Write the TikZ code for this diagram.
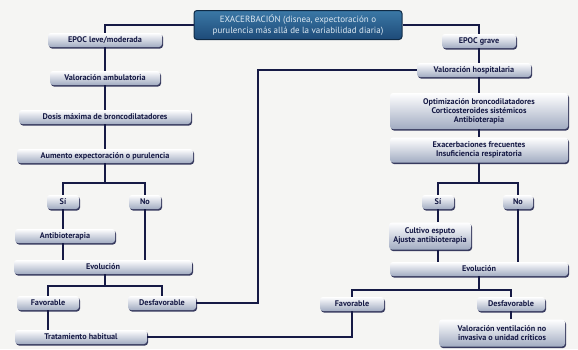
\documentclass[tikz,border=0pt]{standalone}
\usepackage{fontspec}
\setmainfont{PT Sans}
\usetikzlibrary{shadows}
\definecolor{navy}{HTML}{161A45}
\definecolor{boxbot}{HTML}{A2ACC2}
\definecolor{topA}{HTML}{3A78A6}
\definecolor{topB}{HTML}{1D4A78}
\definecolor{topline}{HTML}{0F2A45}
\definecolor{bgc}{HTML}{F5F5F3}
\definecolor{toptext}{HTML}{DCE8F2}
\tikzset{
  pbox/.style={rounded corners=3pt, top color=white, bottom color=boxbot, draw=none,
    drop shadow={shadow xshift=1pt, shadow yshift=-1.5pt, fill=navy, opacity=0.85},
    font=\bfseries\fontsize{8.2}{9}\selectfont, text=navy, inner sep=1pt,
    minimum height=14pt, align=center},
  topbox/.style={rounded corners=3pt, top color=topA, bottom color=topB, draw=topline,
    line width=1pt, font=\fontsize{9}{10.5}\selectfont, text=toptext, inner sep=1pt,
    align=center},
  link/.style={draw=navy, line width=1.1pt},
}
\begin{document}
\begin{tikzpicture}[x=1pt,y=-1pt]
\fill[bgc] (0,0) rectangle (578,349);
\useasboundingbox (0,0) rectangle (578,349);
% top
\node[topbox, minimum width=208pt, minimum height=29pt] (top) at (298,25) {EXACERBACIÓN (disnea, expectoración o\\purulencia más allá de la variabilidad diaria)};
% left column
\node[pbox, minimum width=114pt] (l1) at (105,40) {EPOC leve/moderada};
\node[pbox, minimum width=110pt] (l2) at (105,78) {Valoración ambulatoria};
\node[pbox, minimum width=172pt] (l3) at (105,117) {Dosis máxima de broncodilatadores};
\node[pbox, minimum width=176pt] (l4) at (105,156) {Aumento expectoración o purulencia};
\node[pbox, minimum width=32pt] (lsi) at (63,202) {Sí};
\node[pbox, minimum width=32pt] (lno) at (145,202) {No};
\node[pbox, minimum width=100pt] (lab) at (65,236) {Antibioterapia};
\node[pbox, minimum width=178pt] (lev) at (103,267) {Evolución};
\node[pbox, minimum width=62pt] (lfav) at (48,303) {Favorable};
\node[pbox, minimum width=68pt] (ldes) at (162,303) {Desfavorable};
\node[pbox, minimum width=132pt] (trat) at (81,337) {Tratamiento habitual};
% right column
\node[pbox, minimum width=74pt] (rg) at (479,41) {EPOC grave};
\node[pbox, minimum width=114pt] (rvh) at (474,70) {Valoración hospitalaria};
\node[pbox, minimum width=178pt, minimum height=36pt] (ropt) at (479,111) {Optimización broncodilatadores\\Corticosteroides sistémicos\\Antibioterapia};
\node[pbox, minimum width=178pt, minimum height=25pt] (rexa) at (479,150) {Exacerbaciones frecuentes\\Insuficiencia respiratoria};
\node[pbox, minimum width=32pt] (rsi) at (438,202) {Sí};
\node[pbox, minimum width=30pt] (rno) at (518,202) {No};
\node[pbox, minimum width=82pt, minimum height=27pt] (rcul) at (430,236) {Cultivo esputo\\Ajuste antibioterapia};
\node[pbox, minimum width=178pt] (rev) at (479,269) {Evolución};
\node[pbox, minimum width=64pt] (rfav) at (352,304) {Favorable};
\node[pbox, minimum width=68pt] (rdes) at (511,304) {Desfavorable};
\node[pbox, minimum width=126pt, minimum height=27pt] (rvv) at (502,333) {Valoración ventilación no\\invasiva o unidad críticos};
% coordinates
\coordinate (lb1) at (105,183);
\coordinate (lb2) at (105,286);
\coordinate (lturn) at (258,70);
\coordinate (rb1) at (479,183);
\coordinate (rb2) at (479,290);
% connectors
\draw[link] (top.west) -| (l1.north);
\draw[link] (top.east) -| (rg.north);
\draw[link] (l1.south) -- (l2.north);
\draw[link] (l2.south) -- (l3.north);
\draw[link] (l3.south) -- (l4.north);
\draw[link] (l4.south) -- (lb1);
\draw[link] (lsi.north) |- (lb1) -| (lno.north);
\draw[link] (lsi.south) -- (lsi.south |- lab.north);
\draw[link] (lab.south -| lsi) -- (lsi |- lev.north);
\draw[link] (lno.south) -- (lno |- lev.north);
\draw[link] (lev.south -| lb2) -- (lb2);
\draw[link] (lfav.north) |- (lb2) -| (ldes.north);
\draw[link] (lfav.south) -- (lfav |- trat.north);
\draw[link] (ldes.east) -| (lturn) -- (rvh.west);
\draw[link] (trat.east) -| (rfav.south);
\draw[link] (rg.south) -- (rg.south |- rvh.north);
\draw[link] (rvh.south -| rg) -- (rg |- ropt.north);
\draw[link] (ropt.south -| rg) -- (rg |- rexa.north);
\draw[link] (rexa.south -| rb1) -- (rb1);
\draw[link] (rsi.north) |- (rb1) -| (rno.north);
\draw[link] (rsi.south) -- (rsi |- rcul.north);
\draw[link] (rcul.south -| rsi) -- (rsi |- rev.north);
\draw[link] (rno.south) -- (rno |- rev.north);
\draw[link] (rev.south -| rb2) -- (rb2);
\draw[link] (rfav.north) |- (rb2) -| (rdes.north);
\draw[link] (rdes.south) -- (rdes.south |- rvv.north);
\end{tikzpicture}
\end{document}
